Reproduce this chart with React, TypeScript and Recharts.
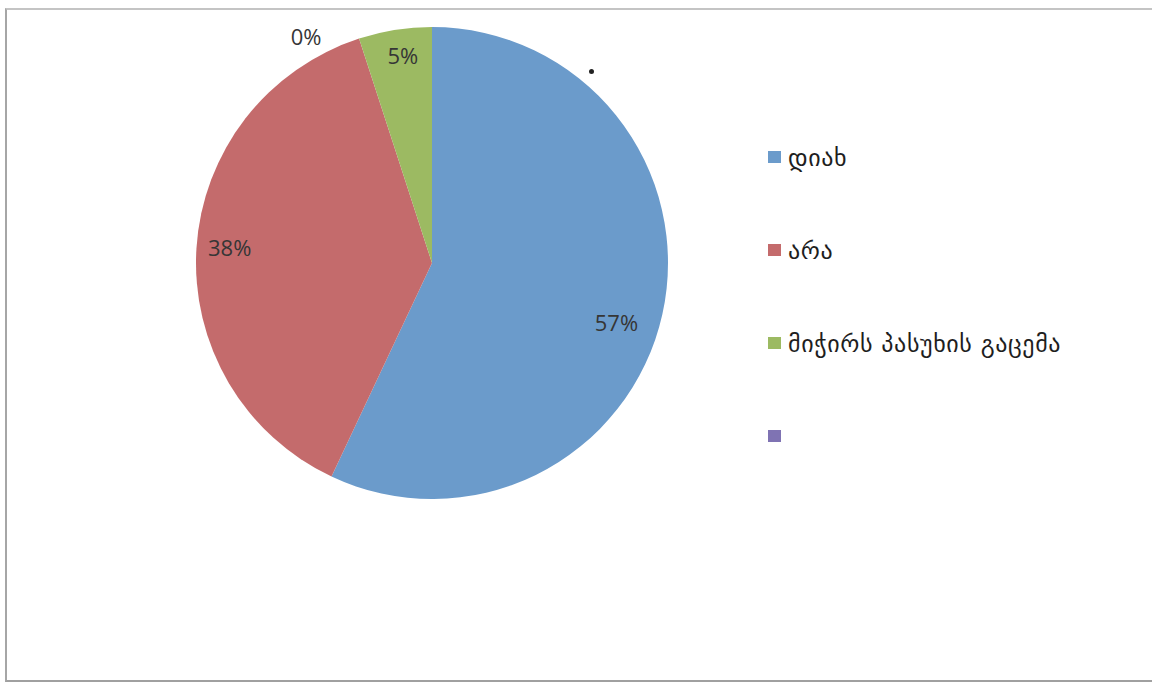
import React from "react";
import { PieChart, Pie, Cell, Legend } from "recharts";

const categories = ["დიახ", "არა", "მიჭირს პასუხის გაცემა", ""];
const values = [57, 38, 5, 0];
const colors = ["#6b9bcb", "#c46b6c", "#9cba62", "#7f73b3"];

const data = categories.map((name, i) => ({ name, value: values[i], fill: colors[i] }));

// label placement tweaks (Excel "best fit" look): radius factor and angle shift per slice
const labelRadius = [0.82, 0.86, 0.89, 1.1];
const labelAngleShift = [-5, -1, -1, 29];

const RAD = Math.PI / 180;

const renderLabel = (props: any) => {
  const { cx, cy, midAngle, outerRadius, index, value } = props;
  const r = outerRadius * labelRadius[index];
  const a = (midAngle + labelAngleShift[index]) * RAD;
  const x = cx + r * Math.cos(a);
  const y = cy - r * Math.sin(a);
  return (
    <text
      x={x}
      y={y}
      fill="#363636"
      textAnchor="middle"
      dominantBaseline="central"
      fontFamily="'Open Sans', Lato, sans-serif"
      fontSize={22}
      fontWeight={500}
    >
      {`${value}%`}
    </text>
  );
};

const renderLegend = (props: any) => {
  const payload = [...(props.payload || [])].sort(
    (a: any, b: any) => categories.indexOf(a.value) - categories.indexOf(b.value)
  );
  return (
    <div style={{ position: "relative" }}>
      {payload.map((entry: any, i: number) => (
        <div
          key={i}
          style={{
            height: 93,
            display: "flex",
            alignItems: "flex-start",
          }}
        >
          <div
            style={{
              width: 13,
              height: 12,
              marginTop: 11,
              background: entry.payload?.fill ?? entry.color,
              flex: "none",
            }}
          />
          <span
            style={{
              marginLeft: 7,
              fontFamily: "'DejaVu Sans', sans-serif",
              fontSize: 24,
              letterSpacing: 0.6,
              color: "#1e1e1e",
              lineHeight: "36px",
              whiteSpace: "nowrap",
            }}
          >
            {entry.value}
          </span>
        </div>
      ))}
    </div>
  );
};

export default function App() {
  return (
    <div style={{ position: "absolute", left: 0, top: 0, width: 1152, height: 685, background: "#fff" }}>
      <div
        style={{
          position: "absolute",
          left: 5,
          top: 8,
          width: 1160,
          height: 670,
          borderLeft: "2px solid #a6a6a6",
          borderTop: "2px solid #c4c4c4",
          borderBottom: "2px solid #a0a0a0",
        }}
      />
      <div style={{ position: "absolute", left: 0, top: 0 }}>
        <PieChart width={1152} height={685} margin={{ top: 0, right: 0, bottom: 0, left: 0 }}>
          <Pie
            data={data}
            dataKey="value"
            nameKey="name"
            cx={432}
            cy={263}
            outerRadius={236}
            startAngle={90}
            endAngle={-270}
            stroke="none"
            label={renderLabel}
            labelLine={false}
            isAnimationActive={false}
          >
            {data.map((d, i) => (
              <Cell key={i} fill={colors[i]} />
            ))}
          </Pie>
          <Legend
            layout="vertical"
            align="right"
            verticalAlign="top"
            itemSorter={null as any}
            content={renderLegend}
            wrapperStyle={{ left: 768, top: 140, width: 380, right: "auto" }}
          />
        </PieChart>
      </div>
      <div
        style={{
          position: "absolute",
          left: 589,
          top: 69,
          width: 5,
          height: 5,
          borderRadius: "50%",
          background: "#222",
        }}
      />
    </div>
  );
}
